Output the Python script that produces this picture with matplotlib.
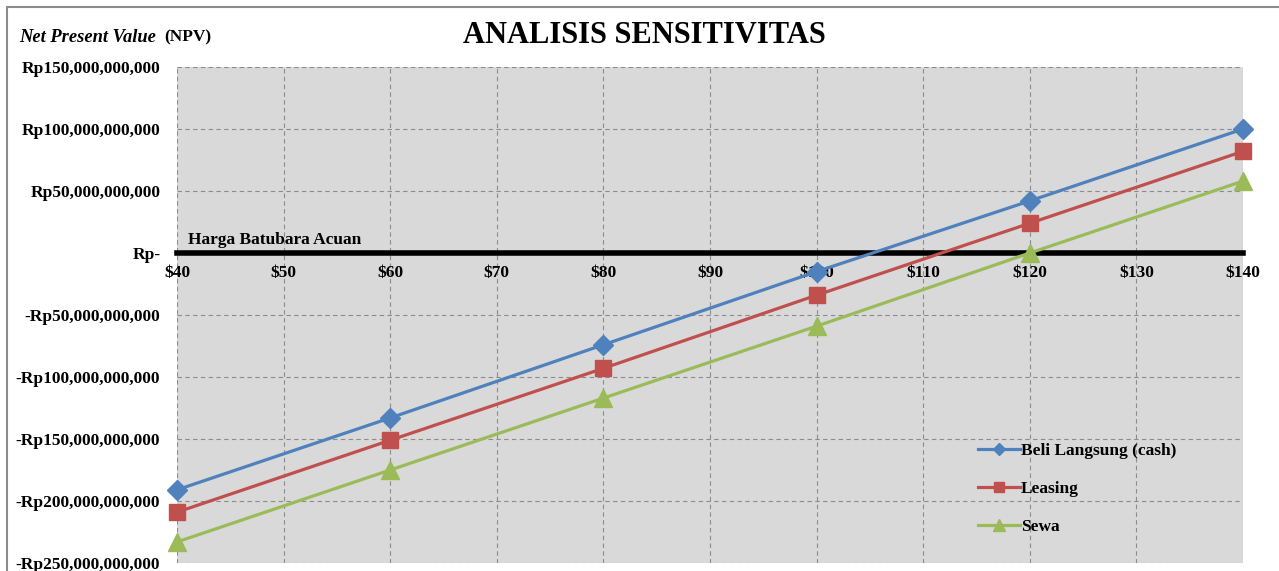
import matplotlib.pyplot as plt
from matplotlib.patches import Rectangle
from matplotlib.ticker import FuncFormatter

# harga batubara (USD/ton) dan NPV tiap skenario (Rp)
harga = [40, 60, 80, 100, 120, 140]
beli_langsung = [-191e9, -133e9, -74e9, -15e9, 42e9, 100e9]
leasing = [-209e9, -151e9, -93e9, -34e9, 24e9, 82e9]
sewa = [-233e9, -175e9, -117e9, -59e9, 0e9, 58e9]

x_ticks = [40, 50, 60, 70, 80, 90, 100, 110, 120, 130, 140]
x_labels = ["$" + str(v) for v in x_ticks]
y_ticks = [-250e9, -200e9, -150e9, -100e9, -50e9, 0, 50e9, 100e9, 150e9]

plt.rcParams['font.family'] = ['Liberation Serif', 'DejaVu Serif']
plt.rcParams['font.weight'] = 'bold'


def rupiah(v, pos):
    if v == 0:
        return "Rp-"
    if v < 0:
        return "-Rp{:,.0f}".format(-v)
    return "Rp{:,.0f}".format(v)


fig = plt.figure(figsize=(12.79, 5.71), dpi=100)
ax = fig.add_axes([0.1384, 0.014, 0.8335, 0.8687])
ax.set_facecolor('#D9D9D9')

ax.plot(harga, beli_langsung, color='#4F81BD', lw=2.3, marker='D', ms=10,
        label='Beli Langsung (cash)', clip_on=False, zorder=4)
ax.plot(harga, leasing, color='#C0504D', lw=2.3, marker='s', ms=12,
        label='Leasing', clip_on=False, zorder=4)
ax.plot(harga, sewa, color='#9BBB59', lw=2.3, marker='^', ms=13,
        label='Sewa', clip_on=False, zorder=4)

ax.set_xlim(40, 140)
ax.set_ylim(-250e9, 150e9)
ax.set_xticks(x_ticks)
ax.set_xticklabels(x_labels)
ax.set_yticks(y_ticks)
ax.yaxis.set_major_formatter(FuncFormatter(rupiah))

ax.grid(True, color='#8C8C8C', ls=(0, (4, 3)), lw=0.8)
ax.set_axisbelow(True)

for s in ['top', 'right', 'left']:
    ax.spines[s].set_visible(False)
ax.spines['bottom'].set_position(('data', 0))
ax.spines['bottom'].set_linewidth(4)
ax.spines['bottom'].set_color('black')
ax.spines['bottom'].set_zorder(3)

ax.tick_params(axis='both', length=0, labelsize=12.5)
ax.tick_params(axis='x', pad=9)
ax.tick_params(axis='y', pad=12)

ax.text(41, 4e9, "Harga Batubara Acuan", fontsize=12.5, fontweight='bold',
        va='bottom', ha='left')

ax.legend(loc='lower left', bbox_to_anchor=(0.737, 0.025), frameon=False,
          fontsize=12.5, handlelength=2.4, handletextpad=0.05, labelspacing=1.25,
          markerscale=0.65)

fig.text(0.504, 0.937, "ANALISIS SENSITIVITAS", ha='center', va='center',
         fontsize=22, fontweight='bold')
fig.text(0.015, 0.935, "Net Present Value", ha='left', va='center',
         fontsize=13.3, fontweight='bold', style='italic')
fig.text(0.1285, 0.935, "(NPV)", ha='left', va='center',
         fontsize=12.5, fontweight='bold')

fig.patches.append(Rectangle((0.0055, -0.1), 1.2, 1.088, transform=fig.transFigure,
                             fill=False, edgecolor='#8C8C8C', lw=1.5))

fig.savefig('out.png', dpi=100)
